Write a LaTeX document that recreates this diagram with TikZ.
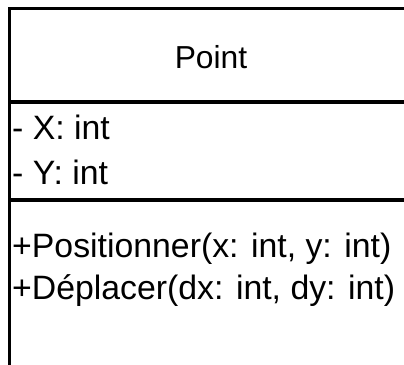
\documentclass[tikz,border=0pt]{standalone}
\usepackage{fontspec}
\setmainfont{Liberation Sans}
\tikzset{
  classframe/.style={draw=black, line width=3pt},
  divider/.style={draw=black, line width=4.5pt},
  member/.style={anchor=base west, inner sep=0pt, font=\fontsize{33.8}{38}\selectfont},
  classname/.style={anchor=base, inner sep=0pt, font=\fontsize{31.8}{36}\selectfont}
}
\begin{document}
\begin{tikzpicture}[x=1pt, y=-1pt]
  \useasboundingbox (0,0) rectangle (404,364);
  \fill[white] (0,0) rectangle (404,364);
  \begin{scope}
    \clip (0,0) rectangle (404,364);
    % class outline, running off the right and bottom edges
    \draw[classframe] (9.5,8.5) rectangle (414,375);
    % compartment separators
    \draw[divider] (9.5,102) coordinate (d1a) -- (414,102) coordinate (d1b);
    \draw[divider] (9.5,200) coordinate (d2a) -- (414,200) coordinate (d2b);
  \end{scope}
  \node[classname] (name) at (211,68) {Point};
  \node[member] (attx) at (12,139) {- X: int};
  \node[member] (atty) at (12,184) {- Y: int};
  \node[member] (opone) at (12,257) {+Positionner(x: int, y: int)};
  \node[member] (optwo) at (12,299) {+Déplacer(dx: int, dy: int)};
\end{tikzpicture}
\end{document}
